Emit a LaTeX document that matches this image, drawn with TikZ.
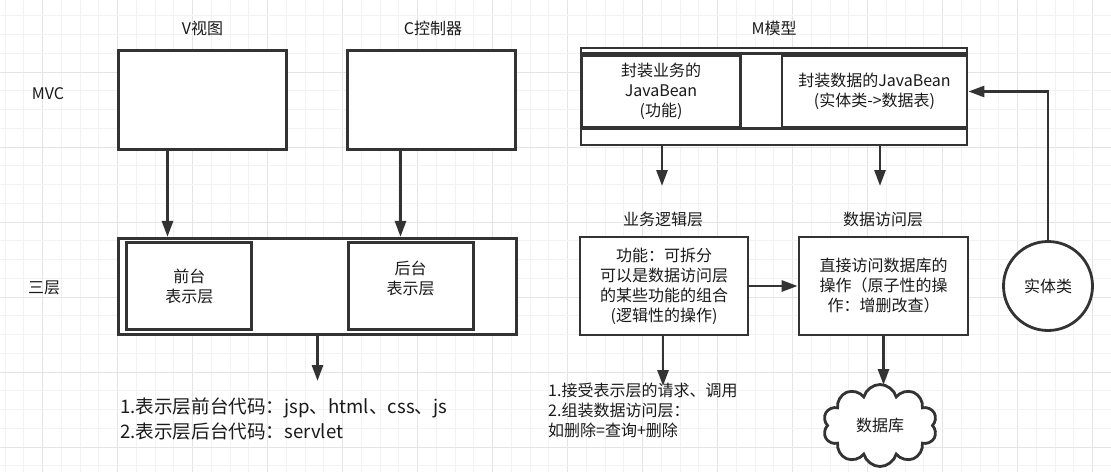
\documentclass[tikz,border=0pt]{standalone}
\usepackage{fontspec}
\setmainfont{Noto Sans CJK SC}
\usetikzlibrary{arrows.meta,shapes.symbols,calc}
\definecolor{ln}{HTML}{333333}
\definecolor{tx}{HTML}{1A1A1A}
\definecolor{gmin}{HTML}{F2F2F2}
\definecolor{gmaj}{HTML}{E4E4E4}
\newcommand\fsnorm{\fontsize{16}{20}\selectfont}
\newcommand\fsbig{\fontsize{18.6}{25}\selectfont}
\begin{document}
\begin{tikzpicture}[x=1pt,y=-1pt,
  box/.style={draw=ln, line width=2.8pt, fill=white, inner sep=0pt, text=tx, align=center, font=\fsnorm},
  txt/.style={inner sep=0pt, text=tx, align=center, font=\fsnorm},
  arr/.style={draw=ln, line width=2.8pt, -{Triangle[width=11pt,length=16pt]}},
  plain/.style={draw=ln, line width=2.8pt}]
\useasboundingbox (0,0) rectangle (1111,472);
\fill[white] (0,0) rectangle (1111,472);
% grid
\foreach \k in {0,...,59} {
  \pgfmathsetmacro\xx{5.22+\k*18.75}
  \pgfmathtruncatemacro\mm{mod(\k,4)}
  \ifnum\mm=2 \draw[gmaj,line width=1pt] (\xx,0) -- (\xx,472); \else \draw[gmin,line width=1pt] (\xx,0) -- (\xx,472); \fi
}
\foreach \k in {0,...,25} {
  \pgfmathsetmacro\yy{15.75+\k*18.75}
  \pgfmathtruncatemacro\mm{mod(\k,4)}
  \ifnum\mm=3 \draw[gmaj,line width=1pt] (0,\yy) -- (1111,\yy); \else \draw[gmin,line width=1pt] (0,\yy) -- (1111,\yy); \fi
}
% row labels and titles
\node[txt] (tV) at (202.5,28.5) {V视图};
\node[txt] (tC) at (433,28.5) {C控制器};
\node[txt] (tM) at (774,28.5) {M模型};
\node[txt] (tMVC) at (48,94) {MVC};
\node[txt] (tSan) at (44,288) {三层};
% MVC row
\node[box, minimum width=168.5, minimum height=99] (V) at (202.5,100) {};
\node[box, minimum width=167.5, minimum height=99] (C) at (431.5,100) {};
\node[box, minimum width=386, minimum height=97] (Mo) at (774,96.5) {};
\draw[plain] ($(Mo.north west)+(0,7)$) -- ($(Mo.north east)+(0,7)$);
\draw[plain] ($(Mo.south west)+(0,-18)$) -- ($(Mo.south east)+(0,-18)$);
\node[box, minimum width=158.5, minimum height=71] (Ml) at (661,91.5) {封装业务的\\JavaBean\\(功能)};
\node[box, minimum width=185, minimum height=71] (Mr) at (874.5,91.5) {封装数据的JavaBean\\(实体类->数据表)};
% three-layer row
\node[box, minimum width=398.5, minimum height=96] (L3) at (317.5,286.3) {};
\node[box, minimum width=125, minimum height=86.5] (Front) at (189.3,286) {前台\\表示层};
\node[box, minimum width=125, minimum height=86.5] (Back) at (410.8,286) {};
\node[txt] (BackT) at (410.5,278) {后台\\表示层};
\node[txt] (tBiz) at (663,219) {业务逻辑层};
\node[txt] (tDao) at (883,219) {数据访问层};
\node[box, minimum width=168, minimum height=98] (Biz) at (664,286) {功能：可拆分\\可以是数据访问层\\的某些功能的组合\\(逻辑性的操作)};
\node[box, minimum width=169, minimum height=98] (Dao) at (883.5,286) {直接访问数据库的\\操作（原子性的操\\作：增删改查）};
\node[box, circle, minimum size=89] (Ent) at (1048,286) {实体类};
\node[box, cloud, cloud puffs=10, cloud ignores aspect, minimum width=114, minimum height=82] (DB) at (880,425.5) {数据库};
% bottom texts
\node[txt, anchor=west, align=left, font=\fsbig] (presNote) at (120,418.5) {1.表示层前台代码：jsp、html、css、js\\2.表示层后台代码：servlet};
\node[txt, anchor=west, align=left] (bizNote) at (548,410) {1.接受表示层的请求、调用\\2.组装数据访问层：\\如删除=查询+删除};
% helper coordinates
\coordinate (vx) at (167.5,0);
\coordinate (cx) at (400.5,0);
\coordinate (lx) at (662,0);
\coordinate (rx) at (880,0);
\coordinate (presEnd) at (317.5,381);
\coordinate (mlEnd) at (662,186);
\coordinate (mrEnd) at (880,186);
\coordinate (bizEnd) at (663,386);
\coordinate (dbEnd) at (883.5,385);
% connectors
\draw[arr] (V.south -| vx) -- (L3.north -| vx);
\draw[arr] (C.south -| cx) -- (L3.north -| cx);
\draw[arr] (L3.south) -- (presEnd);
\draw[arr] (Mo.south -| lx) -- (mlEnd);
\draw[arr] (Mo.south -| rx) -- (mrEnd);
\draw[arr] (Biz.east) -- (Dao.west);
\draw[arr] (Biz.south -| bizEnd) -- (bizEnd);
\draw[arr] (Dao.south) -- (dbEnd);
\draw[arr] (Ent.north) |- (Mr.east);
\end{tikzpicture}
\end{document}
